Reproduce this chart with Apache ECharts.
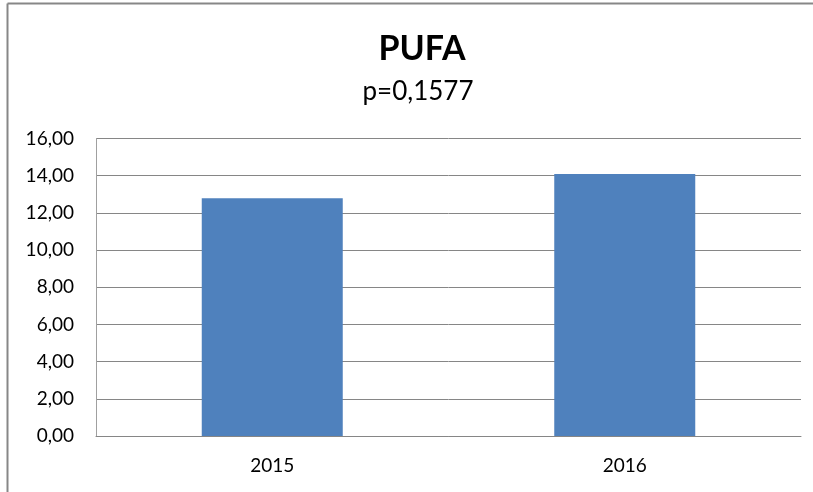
<!DOCTYPE html>
<html>
<head>
<meta charset="utf-8">
<script src="https://cdn.jsdelivr.net/npm/echarts@6/dist/echarts.min.js"></script>
<style>
  html, body { margin: 0; padding: 0; background: #fff; overflow: hidden; }
  #chart { width: 813px; height: 492px; }
</style>
</head>
<body>
<div id="chart"></div>
<script>
// PUFA by year
const categories = ['2015', '2016'];
const pufaValues = [12.79, 14.09];
const titleText = 'PUFA';
const subtitleText = 'p=0,1577';

const FONT = 'Lato, "Open Sans", sans-serif';
const chart = echarts.init(document.getElementById('chart'), null, { renderer: 'canvas' });

chart.setOption({
  backgroundColor: '#ffffff',
  animation: false,
  title: [
    {
      text: titleText,
      left: 417, top: 27, textAlign: 'center',
      textStyle: { fontFamily: FONT, fontSize: 34, fontWeight: 'bold', color: '#000' }
    },
    {
      text: subtitleText,
      left: 413, top: 74, textAlign: 'center',
      textStyle: { fontFamily: FONT, fontSize: 26, fontWeight: 'normal', color: '#000' }
    }
  ],
  graphic: [
    {
      // frame: left and top edges only, the rest runs off the canvas
      type: 'line',
      shape: { x1: 7.5, y1: 3.5, x2: 820, y2: 3.5 },
      style: { stroke: '#878787', lineWidth: 2 },
      silent: true
    },
    {
      type: 'line',
      shape: { x1: 7.5, y1: 3.5, x2: 7.5, y2: 500 },
      style: { stroke: '#878787', lineWidth: 2 },
      silent: true
    }
  ],
  grid: { left: 96, right: 12, top: 138.5, bottom: 56, containLabel: false },
  xAxis: {
    type: 'category',
    data: categories,
    axisLine: { show: true, lineStyle: { color: '#868686', width: 1 } },
    axisTick: { show: false },
    axisLabel: { fontFamily: FONT, fontSize: 19, color: '#000', margin: 20 }
  },
  yAxis: {
    type: 'value',
    min: 0, max: 16, interval: 2,
    axisLine: { show: true, lineStyle: { color: '#a0a0a0', width: 1 } },
    axisTick: { show: false },
    axisLabel: {
      fontFamily: FONT, fontSize: 19, color: '#000', margin: 22,
      formatter: v => v.toFixed(2).replace('.', ',')
    },
    splitLine: { show: true, lineStyle: { color: '#868686', width: 1 } }
  },
  series: [
    {
      type: 'bar',
      data: pufaValues,
      barWidth: '40%',
      itemStyle: { color: '#4F81BD' }
    }
  ]
});
</script>
</body>
</html>
